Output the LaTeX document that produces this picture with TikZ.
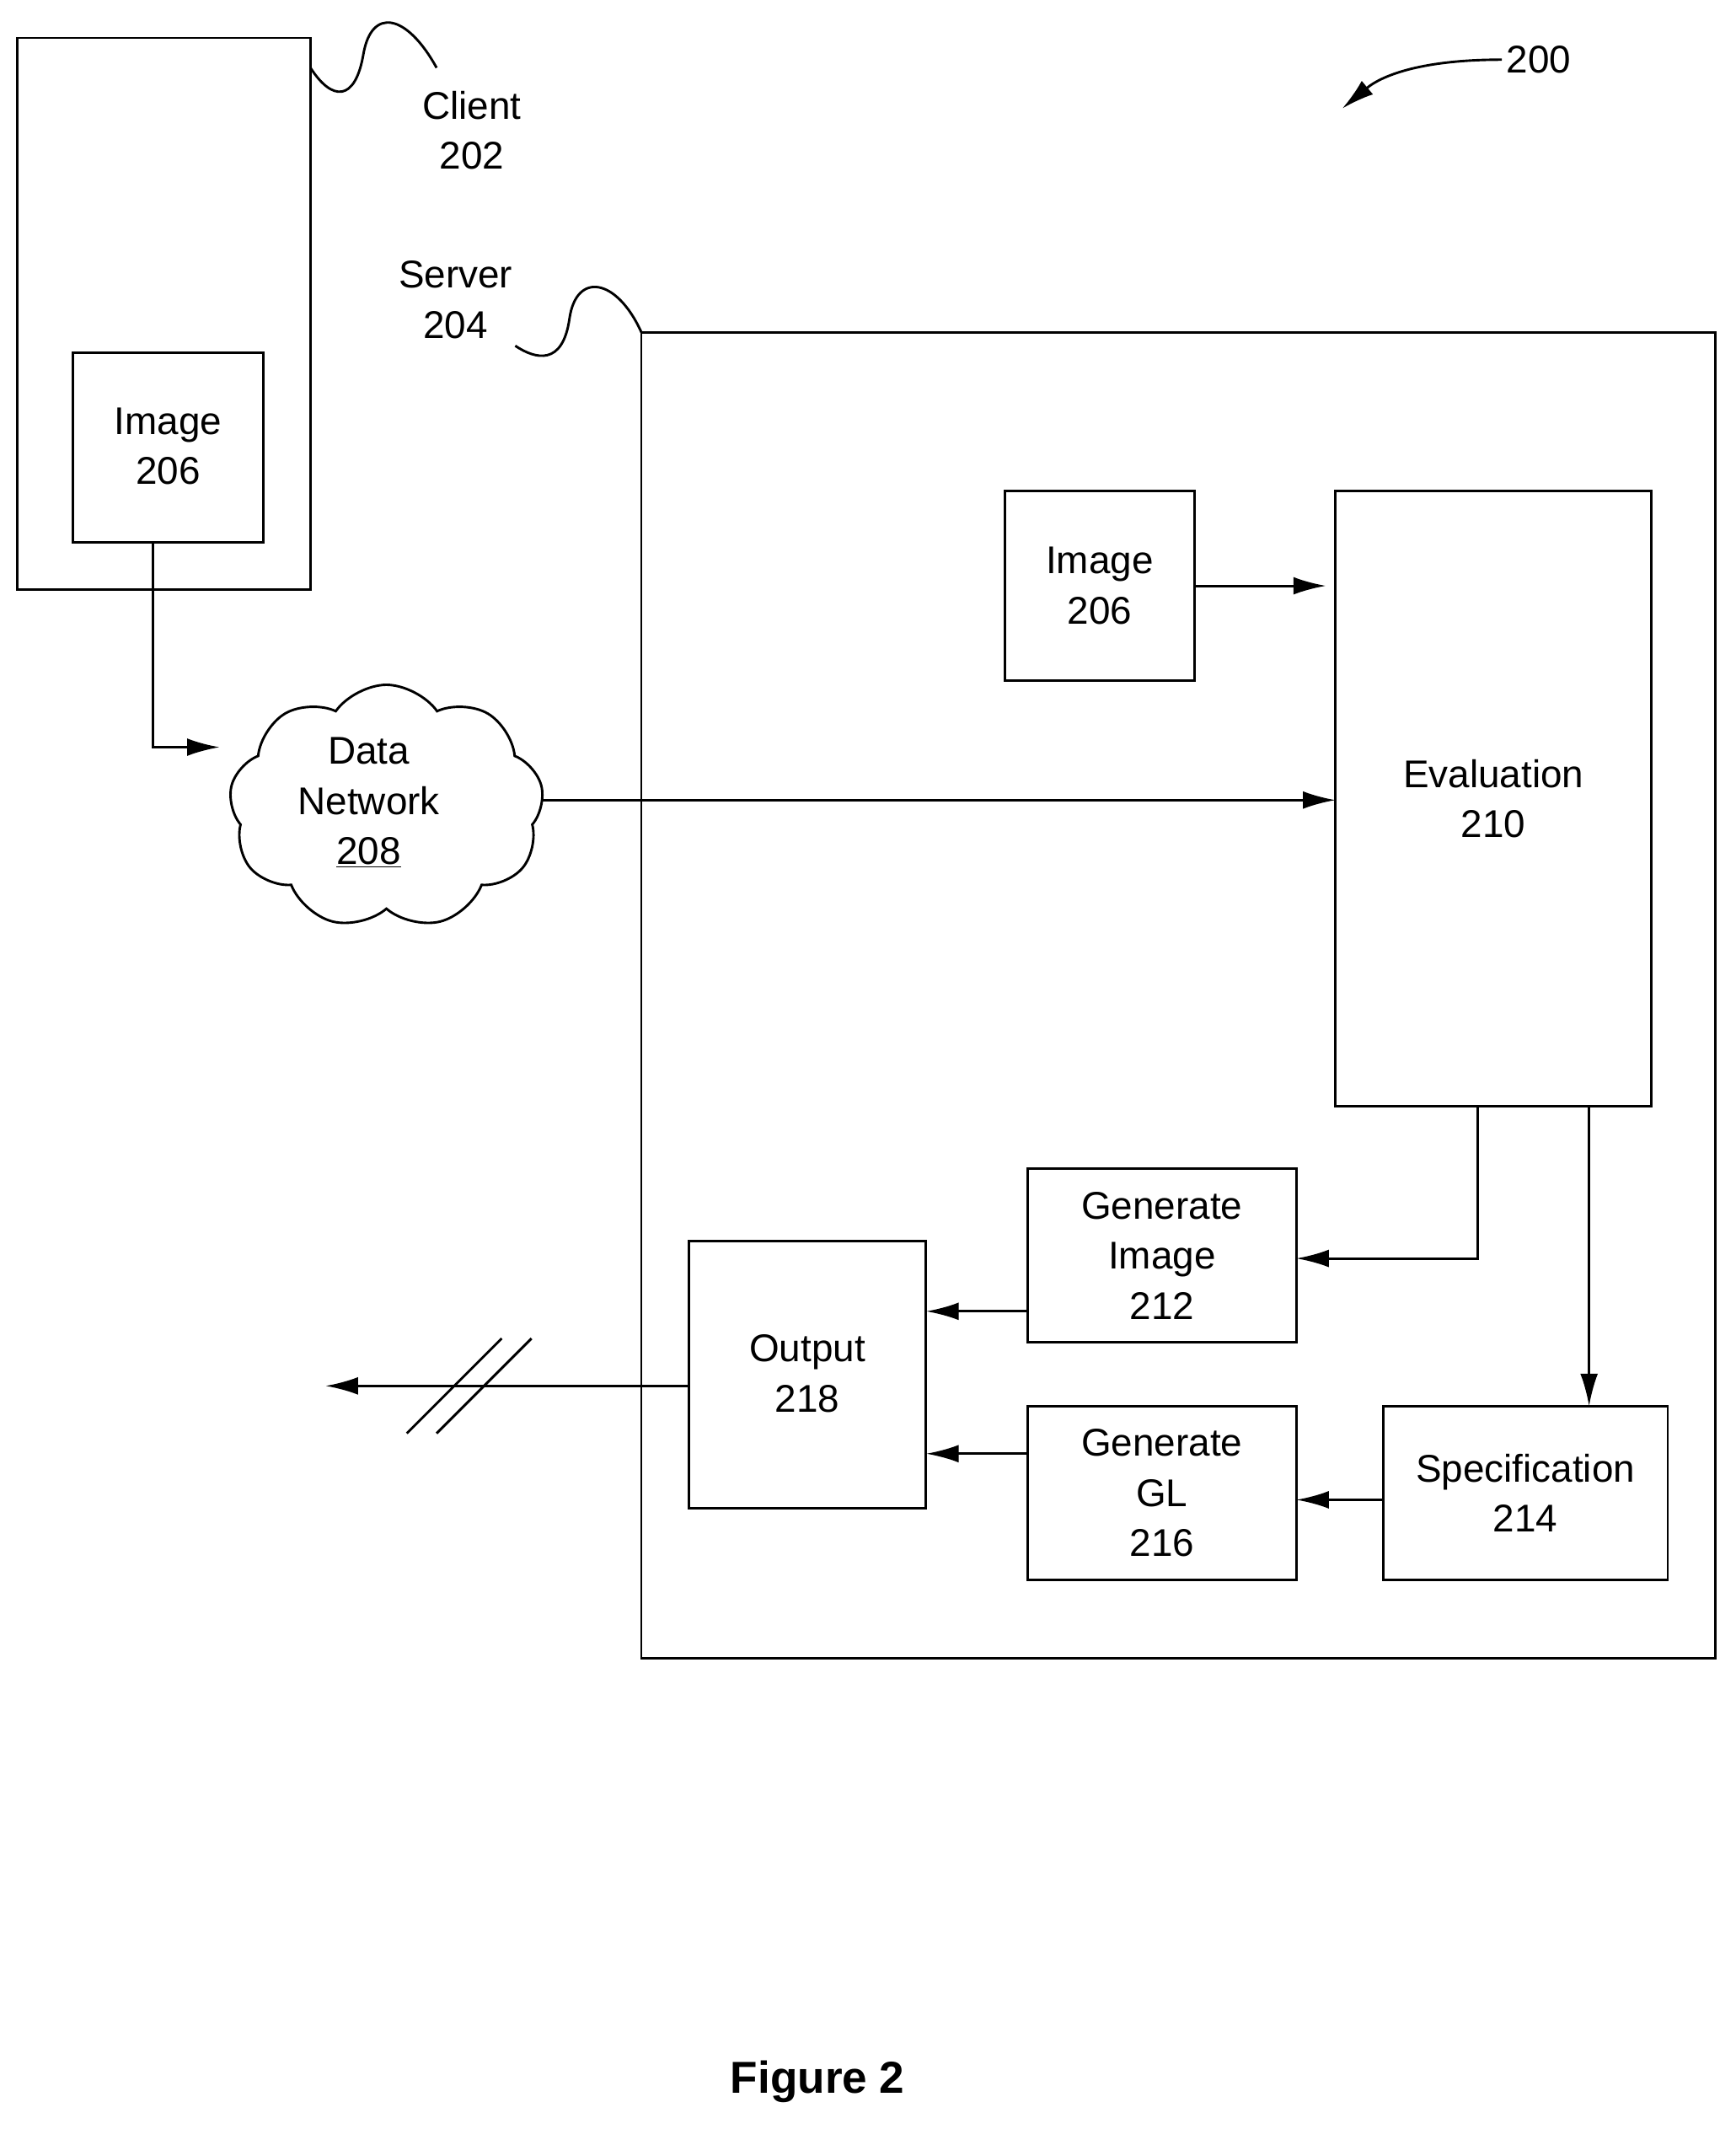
\documentclass[tikz,border=0pt]{standalone}
\usepackage{fontspec}
\setmainfont{Liberation Sans}
\usetikzlibrary{shapes.symbols,arrows.meta}
\begin{document}
\begin{tikzpicture}[x=1pt,y=-1pt,
  box/.style={draw,line width=1.8pt},
  lbl/.style={font=\fontsize{28.5}{37}\selectfont,align=center},
  arr/.style={line width=1.8pt,-{Latex[length=24pt,width=13pt]}},
  ln/.style={line width=1.8pt}]
\useasboundingbox (0,0) rectangle (1280,1570);
\draw[box] (13,28) coordinate(c1) rectangle (229,435) coordinate(c2);
\draw[box] (54,260) rectangle (194,400);
\node[lbl] (img1) at (124,329) {Image\\206};
\coordinate (img1b) at (113,400);
\draw[ln] (229,50) coordinate(cs) .. controls (245,75) and (262,75) .. (268,40) .. controls (274,5) and (300,10) .. (322,50) coordinate(ce);
\node[lbl] (client) at (348,96) {Client\\202};
\draw[box] (473,245) rectangle (1265,1223);
\draw[ln] (473,245) coordinate(ss) .. controls (455,205) and (425,200) .. (420,235) .. controls (415,270) and (395,265) .. (380,255) coordinate(se);
\node[lbl] (server) at (336,221) {Server\\204};
\node[box,minimum width=140pt,minimum height=140pt] (img2) at (811,432) {};
\node[lbl] at (img2) {Image\\206};
\node[box,minimum width=233pt,minimum height=454pt] (eval) at (1101.5,589) {};
\node[lbl] at (eval) {Evaluation\\210};
\node[cloud,draw,line width=1.8pt,cloud puffs=9,cloud puff arc=110,aspect=1.3,minimum width=232pt,minimum height=180pt] (net) at (285,595) {};
\node[lbl] at (272,592) {Data\\Network\\\underline{208}};
\node[box,minimum width=198pt,minimum height=128pt] (gi) at (857,926) {};
\node[lbl] at (gi) {Generate\\Image\\212};
\node[box,minimum width=210pt,minimum height=128pt] (spec) at (1125,1101) {};
\node[lbl] at (spec) {Specification\\214};
\node[box,minimum width=198pt,minimum height=128pt] (gl) at (857,1101) {};
\node[lbl] at (gl) {Generate\\GL\\216};
\node[box,minimum width=175pt,minimum height=197pt] (out) at (595.5,1013.5) {};
\node[lbl] at (595.5,1013) {Output\\218};
\coordinate (far) at (240,1022);
\coordinate (netin) at (162,551);
\node[lbl] (n200) at (1135,44) {200};
\node[font=\fontsize{33}{38}\selectfont\bfseries] (fig) at (603,1535) {Figure 2};
\draw[arr] (img1b) |- (netin);
\draw[arr] (881,432) -- (978,432);
\draw[arr] (400,590) -- (985,590);
\draw[arr] (1090,816) |- (956,928);
\draw[arr] (1172,816) -- (1172,1037);
\draw[arr] (spec.west |- 0,1106) -- (956,1106);
\draw[arr] (gi.west |- 0,967) -- (683,967);
\draw[arr] (gl.west |- 0,1072) -- (683,1072);
\draw[arr] (out.west |- 0,1022) -- (far);
\draw[ln] (300,1057) -- (370,987);
\draw[ln] (322,1057) -- (392,987);
\draw[arr] (n200.west) .. controls (1050,44) and (1020,55) .. (990,80);
\end{tikzpicture}
\end{document}
